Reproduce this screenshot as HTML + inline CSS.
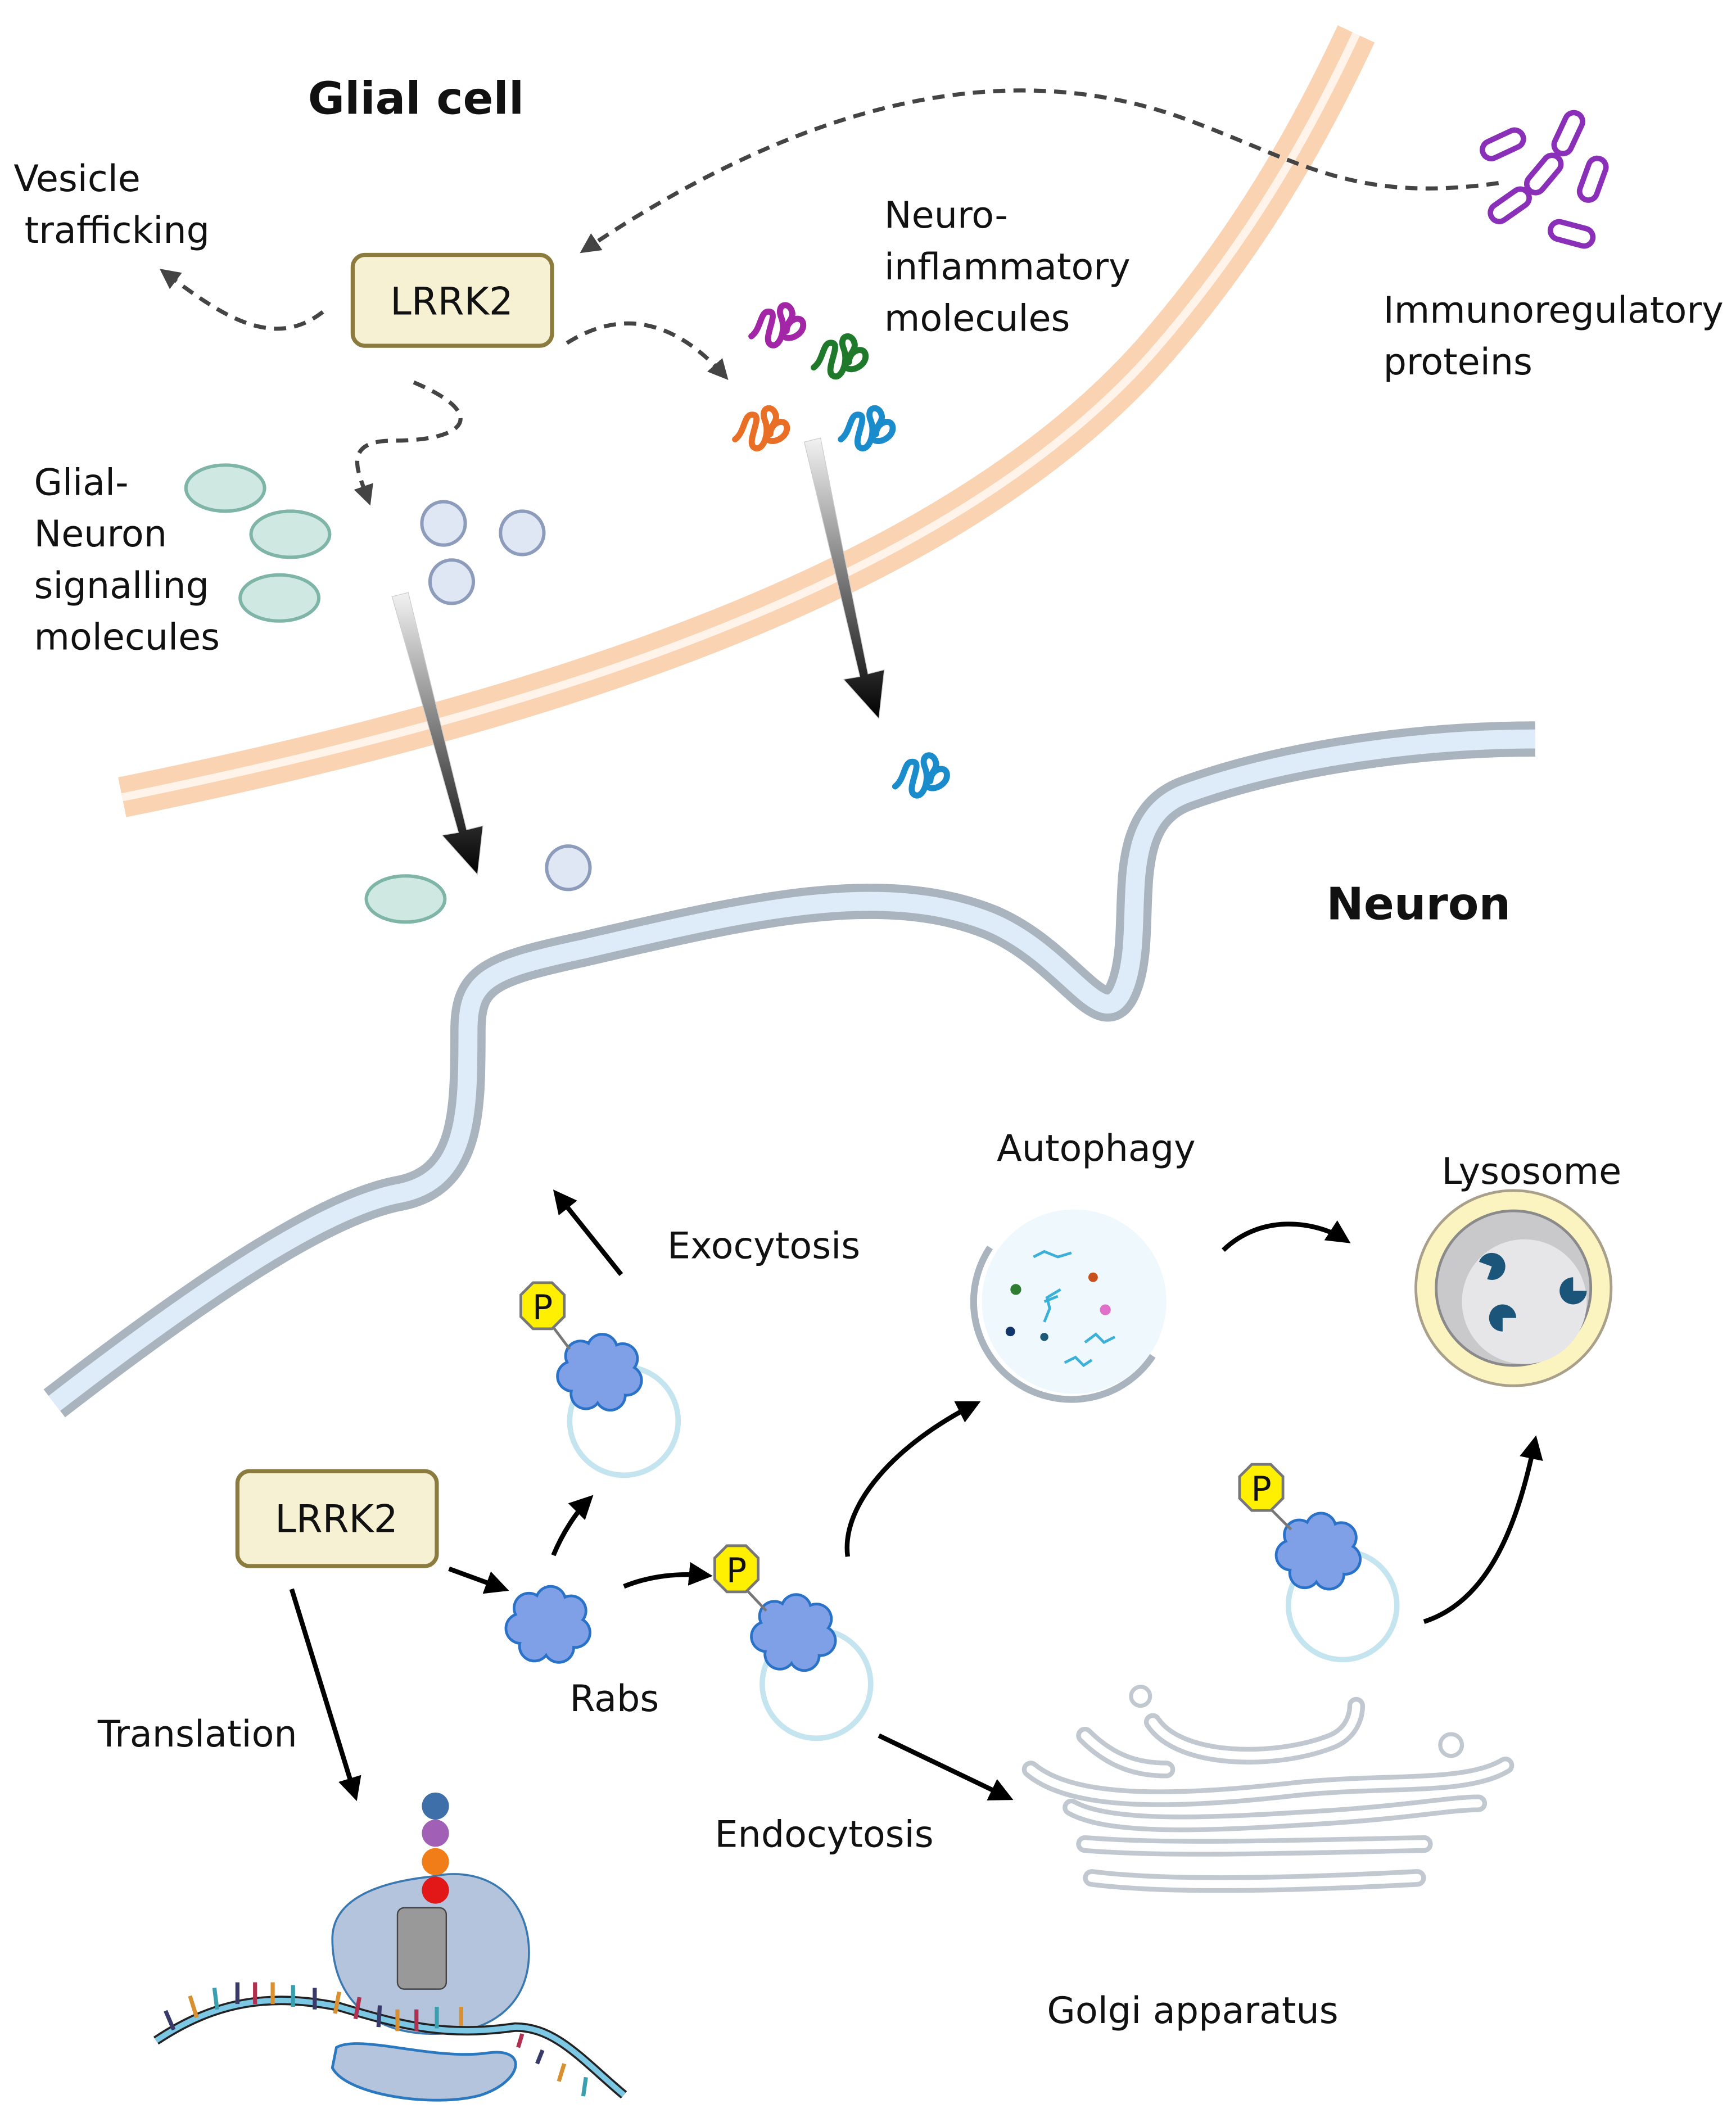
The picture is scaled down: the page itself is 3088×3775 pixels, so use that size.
<!DOCTYPE html>
<html><head><meta charset="utf-8"><style>
html,body{margin:0;padding:0;background:#fff}
svg{display:block}
text{font-family:"DejaVu Sans","Liberation Sans",sans-serif;fill:#111}
</style></head><body>
<svg width="3088" height="3775" viewBox="0 0 1280 1565" xmlns="http://www.w3.org/2000/svg">
<defs>
<marker id="ah" viewBox="0 0 10 10" refX="8" refY="5" markerWidth="5" markerHeight="5" orient="auto"><path d="M0,0L10,5L0,10z" fill="#000"/></marker>
<marker id="dh" viewBox="0 0 10 10" refX="8" refY="5" markerWidth="5" markerHeight="5" orient="auto"><path d="M0,0L10,5L0,10z" fill="#444"/></marker>
<linearGradient id="ga" x1="0" y1="0" x2="0" y2="1"><stop offset="0" stop-color="#f2f2f2"/><stop offset="1" stop-color="#000"/></linearGradient>
<g id="rab">
<g fill="#2a72c8"><circle cx="-14" cy="-12" r="12"/><circle cx="2" cy="-17" r="12"/><circle cx="17" cy="-10" r="12"/><circle cx="20" cy="6" r="12"/><circle cx="8" cy="17" r="12"/><circle cx="-10" cy="16" r="12"/><circle cx="-20" cy="3" r="12"/><circle cx="0" cy="0" r="14"/></g>
<g fill="#7f9fe6"><circle cx="-14" cy="-12" r="10"/><circle cx="2" cy="-17" r="10"/><circle cx="17" cy="-10" r="10"/><circle cx="20" cy="6" r="10"/><circle cx="8" cy="17" r="10"/><circle cx="-10" cy="16" r="10"/><circle cx="-20" cy="3" r="10"/><circle cx="0" cy="0" r="14"/></g>
</g>
<g id="pp"><polygon points="-7,-17 7,-17 16,-8 16,8 7,17 -7,17 -16,8 -16,-8" fill="#ffef00" stroke="#777" stroke-width="2"/></g>
<g id="sq" fill="none" stroke-width="4.5" stroke-linecap="round"><path d="M-18,8 C-10,2 -12,-12 -4,-10 C2,-8 -10,10 -4,14 C2,18 8,4 4,-6 C0,-16 10,-18 12,-10 C14,-4 2,4 6,8 C10,12 22,6 20,-2 C18,-8 8,-4 8,4"/></g>
</defs>

<path d="M90,588 C400,525 700,430 850,260 C920,180 965,100 1000,25" fill="none" stroke="#f9d3b2" stroke-width="30"/>
<path d="M90,588 C400,525 700,430 850,260 C920,180 965,100 1000,25" fill="none" stroke="#fff3ea" stroke-width="6"/>

<path d="M40,1035 C150,950 240,890 295,880 C345,870 345,820 345,760 C345,722 360,715 430,700 C550,672 650,648 730,680 C790,705 815,770 830,725 C845,680 820,605 875,585 C950,558 1050,545 1132,545" fill="none" stroke="#aab4bf" stroke-width="26"/>
<path d="M40,1035 C150,950 240,890 295,880 C345,870 345,820 345,760 C345,722 360,715 430,700 C550,672 650,648 730,680 C790,705 815,770 830,725 C845,680 820,605 875,585 C950,558 1050,545 1132,545" fill="none" stroke="#deebf9" stroke-width="14"/>

<text x="227" y="84" font-size="33" font-weight="bold">Glial cell</text>
<text x="978" y="678" font-size="33" font-weight="bold">Neuron</text>

<g font-size="27">
<text x="10" y="141">Vesicle</text><text x="18" y="179">trafficking</text>
<text x="652" y="168">Neuro-</text><text x="652" y="206">inflammatory</text><text x="652" y="244">molecules</text>
<text x="1020" y="238">Immunoregulatory</text><text x="1020" y="276">proteins</text>
<text x="25" y="365">Glial-</text><text x="25" y="403">Neuron</text><text x="25" y="441">signalling</text><text x="25" y="479">molecules</text>
<text x="492" y="928">Exocytosis</text>
<text x="735" y="856">Autophagy</text>
<text x="1063" y="873">Lysosome</text>
<text x="420" y="1262">Rabs</text>
<text x="72" y="1288">Translation</text>
<text x="527" y="1362">Endocytosis</text>
<text x="772" y="1492">Golgi apparatus</text>
</g>

<rect x="260" y="188" width="147" height="67" rx="9" fill="#f6f1d3" stroke="#8c7b3e" stroke-width="3"/>
<text x="333" y="232" font-size="28" text-anchor="middle">LRRK2</text>
<rect x="175" y="1085" width="147" height="70" rx="9" fill="#f6f1d3" stroke="#8c7b3e" stroke-width="3"/>
<text x="248" y="1130" font-size="28" text-anchor="middle">LRRK2</text>

<g fill="none" stroke="#444" stroke-width="3" stroke-dasharray="9,6">
<path d="M1105,135 C1000,150 960,120 880,90 C750,40 600,70 430,185" marker-end="url(#dh)"/>
<path d="M238,230 C200,260 160,230 120,200" marker-end="url(#dh)"/>
<path d="M418,253 C470,220 510,250 535,278" marker-end="url(#dh)"/>
<path d="M305,282 C360,305 345,325 290,325 C250,325 265,350 272,370" marker-end="url(#dh)"/>
</g>

<g fill="none" stroke="#8a2fb8" stroke-width="4">
<rect x="1092" y="100" width="32" height="13" rx="6.5" transform="rotate(-25 1108 106)"/>
<rect x="1140" y="92" width="32" height="13" rx="6.5" transform="rotate(-65 1156 98)"/>
<rect x="1122" y="122" width="32" height="13" rx="6.5" transform="rotate(-50 1138 128)"/>
<rect x="1158" y="126" width="32" height="13" rx="6.5" transform="rotate(-70 1174 132)"/>
<rect x="1097" y="145" width="32" height="13" rx="6.5" transform="rotate(-35 1113 151)"/>
<rect x="1143" y="166" width="32" height="13" rx="6.5" transform="rotate(15 1159 172)"/>
</g>

<use href="#sq" x="572" y="240" stroke="#a226a6"/>
<use href="#sq" x="618" y="263" stroke="#1e7a2a"/>
<use href="#sq" x="560" y="316" stroke="#e86f25"/>
<use href="#sq" x="638" y="316" stroke="#1a8ccc"/>
<use href="#sq" x="678" y="572" stroke="#1a8ccc"/>

<g fill="#cfe9e2" stroke="#7fb5a6" stroke-width="2.5">
<ellipse cx="166" cy="360" rx="29" ry="17"/><ellipse cx="214" cy="394" rx="29" ry="17"/><ellipse cx="206" cy="441" rx="29" ry="17"/>
<ellipse cx="299" cy="663" rx="29" ry="17"/>
</g>
<g fill="#dfe6f4" stroke="#8e9cbc" stroke-width="2.5">
<circle cx="327" cy="386" r="16"/><circle cx="385" cy="393" r="16"/><circle cx="333" cy="429" r="16"/><circle cx="419" cy="640" r="16"/>
</g>

<polygon points="289,440 301,437 344,612 356,609 352,645 326,616 338,614" fill="url(#ga)" stroke="#ccc" stroke-width="0.5"/>
<polygon points="593,326 605,323 640,497 652,494 648,530 622,501 634,499" fill="url(#ga)" stroke="#ccc" stroke-width="0.5"/>

<g fill="none" stroke="#c4e4f0" stroke-width="4">
<circle cx="460" cy="1048" r="40"/>
<circle cx="602" cy="1242" r="40"/>
<circle cx="990" cy="1184" r="40"/>
</g>
<use href="#rab" x="442" y="1012"/>
<use href="#rab" x="404" y="1198"/>
<use href="#rab" x="585" y="1204"/>
<use href="#rab" x="972" y="1144"/>
<g stroke="#777" stroke-width="2"><line x1="405" y1="975" x2="420" y2="995"/><line x1="548" y1="1170" x2="565" y2="1188"/><line x1="934" y1="1110" x2="952" y2="1128"/></g>
<use href="#pp" x="400" y="963"/><text x="400" y="973" font-size="25" text-anchor="middle">P</text>
<use href="#pp" x="543" y="1157"/><text x="543" y="1167" font-size="25" text-anchor="middle">P</text>
<use href="#pp" x="930" y="1097"/><text x="930" y="1107" font-size="25" text-anchor="middle">P</text>

<g fill="none" stroke="#000" stroke-width="3.5" marker-end="url(#ah)">
<path d="M458,940 L410,880"/>
<path d="M331,1157 L372,1172"/>
<path d="M408,1147 C415,1130 425,1115 435,1105"/>
<path d="M460,1170 C480,1162 500,1160 522,1162"/>
<path d="M625,1148 C620,1110 660,1065 720,1035"/>
<path d="M902,922 C930,895 970,900 993,915"/>
<path d="M1050,1196 C1100,1180 1120,1120 1132,1062"/>
<path d="M648,1280 L744,1326"/>
<path d="M215,1172 L262,1325"/>
</g>

<circle cx="792" cy="960" r="68" fill="#eef8fd"/>
<path d="M730,920 A68,68 0 0 0 850,1000" fill="none" stroke="#aab4bf" stroke-width="5"/>
<g fill="none" stroke="#3bb0d8" stroke-width="2"><path d="M762,927 l8,-4 l10,4 l10,-3"/><path d="M770,975 l4,-10 l-2,-8 l10,-6"/><path d="M800,990 l8,-6 l6,6 l8,-4"/><path d="M785,1005 l8,-4 l6,6 l6,-4"/><path d="M770,960 l10,-4"/></g>
<circle cx="749" cy="951" r="4" fill="#2e7d32"/><circle cx="806" cy="942" r="3.5" fill="#c8501a"/><circle cx="815" cy="966" r="4" fill="#e070c8"/><circle cx="745" cy="982" r="3.5" fill="#12356b"/><circle cx="770" cy="986" r="3" fill="#1e5a78"/>

<circle cx="1116" cy="950" r="72" fill="#fbf4c0" stroke="#a8a08a" stroke-width="2"/>
<circle cx="1116" cy="950" r="57" fill="#c9c9cc" stroke="#8a8a8a" stroke-width="2"/>
<circle cx="1124" cy="960" r="46" fill="#e6e6e8"/>
<g fill="#1b5579">
<path d="M1100,934 m-10,0 a10,10 0 1 1 10,10 l0,-10z" transform="rotate(20 1100 934)"/>
<path d="M1160,952 m10,0 a10,10 0 1 1 -10,-10 l0,10z"/>
<path d="M1108,972 m0,10 a10,10 0 1 1 10,-10 l-10,0z"/>
</g>

<g fill="none" stroke="#c2c8d0" stroke-width="13" stroke-linecap="round" stroke-linejoin="round">
<path d="M760,1305 C790,1330 860,1330 950,1320 C1020,1312 1080,1320 1110,1302"/>
<path d="M790,1333 C820,1350 900,1345 980,1340 C1040,1336 1070,1330 1090,1330"/>
<path d="M800,1360 C860,1365 950,1362 1050,1360"/>
<path d="M805,1385 C860,1392 950,1390 1045,1385"/>
<path d="M850,1270 C870,1300 940,1300 980,1285 C1000,1278 1000,1260 1000,1258"/>
<path d="M800,1280 C820,1300 840,1305 860,1305"/>
</g>
<g fill="none" stroke="#fff" stroke-width="6" stroke-linecap="round">
<path d="M760,1305 C790,1330 860,1330 950,1320 C1020,1312 1080,1320 1110,1302"/>
<path d="M790,1333 C820,1350 900,1345 980,1340 C1040,1336 1070,1330 1090,1330"/>
<path d="M800,1360 C860,1365 950,1362 1050,1360"/>
<path d="M805,1385 C860,1392 950,1390 1045,1385"/>
<path d="M850,1270 C870,1300 940,1300 980,1285 C1000,1278 1000,1260 1000,1258"/>
<path d="M800,1280 C820,1300 840,1305 860,1305"/>
</g>
<circle cx="841" cy="1251" r="7" fill="none" stroke="#c2c8d0" stroke-width="3"/>
<circle cx="1070" cy="1287" r="8" fill="none" stroke="#c2c8d0" stroke-width="3"/>

<path d="M318,1384 C360,1375 390,1400 390,1440 C390,1480 360,1500 320,1500 C270,1500 245,1470 245,1430 C245,1400 280,1388 318,1384z" fill="#b4c4dc" stroke="#3a78b0" stroke-width="1.5"/>
<path d="M248,1510 C265,1500 320,1520 360,1514 C390,1510 385,1535 355,1545 C320,1555 255,1545 245,1525z" fill="#b4c4dc" stroke="#2a78c0" stroke-width="2"/>
<rect x="293" y="1407" width="36" height="60" rx="5" fill="#999" stroke="#444" stroke-width="1"/>
<circle cx="321" cy="1332" r="10" fill="#3f6fa8"/><circle cx="321" cy="1352" r="10" fill="#a160b5"/><circle cx="321" cy="1373" r="10" fill="#f07d18"/><circle cx="321" cy="1394" r="10" fill="#e21818"/>
<path d="M115,1505 C160,1475 200,1470 250,1480 C300,1495 330,1502 380,1495 C410,1495 430,1520 460,1545" fill="none" stroke="#222" stroke-width="7"/>
<path d="M115,1505 C160,1475 200,1470 250,1480 C300,1495 330,1502 380,1495 C410,1495 430,1520 460,1545" fill="none" stroke="#7cc8e4" stroke-width="4"/>
<g stroke-width="3">
<line x1="128" y1="1497" x2="122" y2="1483" stroke="#3a3a6a"/><line x1="145" y1="1488" x2="140" y2="1472" stroke="#d89030"/><line x1="160" y1="1482" x2="158" y2="1466" stroke="#3aa0b0"/><line x1="175" y1="1478" x2="175" y2="1462" stroke="#3a3a6a"/><line x1="188" y1="1478" x2="188" y2="1462" stroke="#b03050"/><line x1="201" y1="1478" x2="201" y2="1462" stroke="#d89030"/><line x1="216" y1="1480" x2="216" y2="1464" stroke="#3aa0b0"/><line x1="232" y1="1482" x2="232" y2="1466" stroke="#3a3a6a"/><line x1="247" y1="1485" x2="250" y2="1469" stroke="#d89030"/><line x1="262" y1="1489" x2="265" y2="1473" stroke="#b03050"/><line x1="279" y1="1495" x2="280" y2="1479" stroke="#3a3a6a"/><line x1="293" y1="1498" x2="293" y2="1482" stroke="#d89030"/><line x1="307" y1="1498" x2="307" y2="1482" stroke="#b03050"/><line x1="322" y1="1496" x2="322" y2="1480" stroke="#3aa0b0"/><line x1="340" y1="1494" x2="340" y2="1480" stroke="#d89030"/><line x1="385" y1="1500" x2="382" y2="1510" stroke="#b03050"/><line x1="400" y1="1512" x2="396" y2="1522" stroke="#3a3a6a"/><line x1="416" y1="1522" x2="412" y2="1535" stroke="#d89030"/><line x1="432" y1="1532" x2="430" y2="1546" stroke="#3aa0b0"/>
</g>
</svg>
</body></html>
